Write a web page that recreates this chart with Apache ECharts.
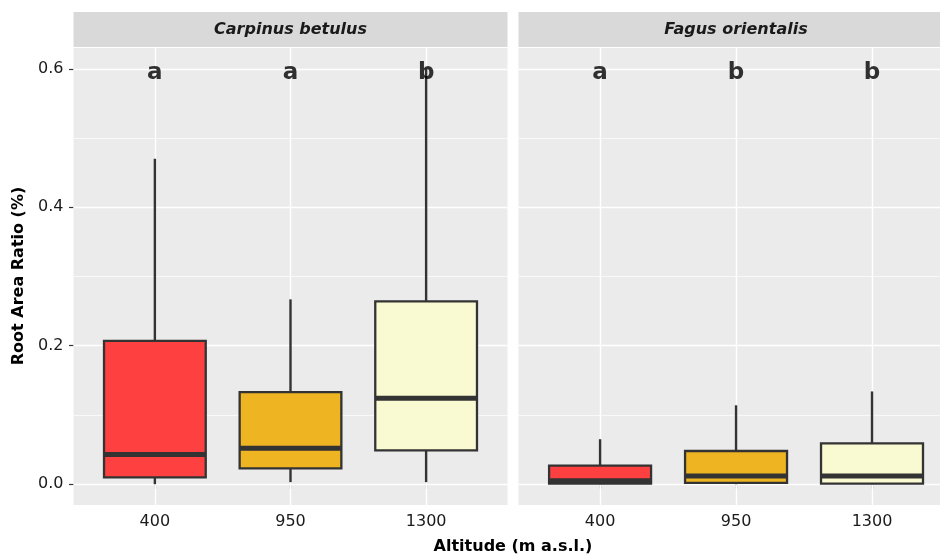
<!DOCTYPE html>
<html>
<head>
<meta charset="utf-8">
<script src="https://cdn.jsdelivr.net/npm/echarts@6/dist/echarts.min.js"></script>
<style>html,body{margin:0;padding:0;background:#fff}#c{width:940px;height:559px}</style>
</head>
<body>
<div id="c"></div>
<script>
// ---- data ----
const categories = ['400', '950', '1300'];
const panels = ['Carpinus betulus', 'Fagus orientalis'];
// [min, Q1, median, Q3, max] per altitude
const carpinusBox = [
  [0.000, 0.010, 0.043, 0.207, 0.470],
  [0.003, 0.023, 0.052, 0.133, 0.267],
  [0.003, 0.049, 0.124, 0.264, 0.600]
];
const fagusBox = [
  [0.000, 0.001, 0.005, 0.027, 0.065],
  [0.000, 0.002, 0.012, 0.048, 0.114],
  [0.000, 0.001, 0.012, 0.059, 0.134]
];
const carpinusLetters = ['a', 'a', 'b'];
const fagusLetters = ['a', 'b', 'b'];
const letterY = 0.6;
const yTicks = [0, 0.2, 0.4, 0.6];
const yMinor = [0.1, 0.3, 0.5];
const xPos = [1, 2, 3];
const fillColors = ['#FF4040', '#EEB422', '#FAFAD2'];

// ---- chart ----
const chart = echarts.init(document.getElementById('c'), null, {renderer: 'canvas'});
const font = '"DejaVu Sans", Verdana, sans-serif';

function renderBox(params, api) {
  const i = params.dataIndex;
  const xv = api.value(0);
  const pMin = api.coord([xv, api.value(1)]);
  const pQ1 = api.coord([xv, api.value(2)]);
  const pMed = api.coord([xv, api.value(3)]);
  const pQ3 = api.coord([xv, api.value(4)]);
  const pMax = api.coord([xv, api.value(5)]);
  const w = api.size([0.75, 0])[0];
  const x = pMed[0];
  const stroke = '#333333';
  return {
    type: 'group',
    children: [
      {type: 'line', shape: {x1: x, y1: pMax[1], x2: x, y2: pQ3[1]}, style: {stroke, lineWidth: 2.4}},
      {type: 'line', shape: {x1: x, y1: pQ1[1], x2: x, y2: pMin[1]}, style: {stroke, lineWidth: 2.4}},
      {type: 'rect', shape: {x: x - w / 2, y: pQ3[1], width: w, height: pQ1[1] - pQ3[1]},
        style: {fill: fillColors[i], stroke, lineWidth: 2.3}},
      {type: 'line', shape: {x1: x - w / 2, y1: pMed[1], x2: x + w / 2, y2: pMed[1]}, style: {stroke, lineWidth: 5}}
    ]
  };
}

function gridLines() {
  const d = [];
  yMinor.forEach(v => d.push({yAxis: v, lineStyle: {color: '#ffffff', width: 0.7, type: 'solid'}}));
  yTicks.forEach(v => d.push({yAxis: v, lineStyle: {color: '#ffffff', width: 1.4, type: 'solid'}}));
  xPos.forEach(v => d.push({xAxis: v, lineStyle: {color: '#ffffff', width: 1.4, type: 'solid'}}));
  return d;
}

const grids = [
  {left: 73.5, top: 48, width: 434, height: 457, show: true, backgroundColor: '#EBEBEB', borderWidth: 0},
  {left: 518.5, top: 48, width: 421.5, height: 457, show: true, backgroundColor: '#EBEBEB', borderWidth: 0}
];
const xMax = [3.6, 3.5];

const xAxes = [0, 1].map(g => ({
  type: 'value', gridIndex: g, min: 0.4, max: xMax[g],
  axisLine: {show: false},
  axisTick: {show: true, customValues: xPos, length: 4.5, lineStyle: {color: '#333', width: 1.2}},
  axisLabel: {customValues: xPos, formatter: v => categories[Math.round(v) - 1],
    color: '#1a1a1a', fontSize: 16, fontFamily: font, margin: 9},
  splitLine: {show: false}
}));

const yAxes = [0, 1].map(g => ({
  type: 'value', gridIndex: g, min: -0.03, max: 0.63,
  axisLine: {show: false},
  axisTick: {show: g === 0, length: 4.5, customValues: yTicks, lineStyle: {color: '#333', width: 1.2}},
  axisLabel: {show: g === 0, customValues: yTicks, formatter: v => v.toFixed(1),
    color: '#1a1a1a', fontSize: 16, fontFamily: font, margin: 10},
  splitLine: {show: false}
}));

const boxSets = [carpinusBox, fagusBox];
const letterSets = [carpinusLetters, fagusLetters];
const series = [];
[0, 1].forEach(g => {
  series.push({
    type: 'line', xAxisIndex: g, yAxisIndex: g, z: 1, silent: true,
    data: [], symbol: 'none',
    markLine: {silent: true, z: 1, symbol: 'none', label: {show: false}, animation: false, data: gridLines()}
  });
  series.push({
    type: 'custom', xAxisIndex: g, yAxisIndex: g, z: 3,
    renderItem: renderBox,
    encode: {x: 0, y: [1, 2, 3, 4, 5]},
    data: boxSets[g].map((b, i) => [xPos[i]].concat(b))
  });
  series.push({
    type: 'scatter', xAxisIndex: g, yAxisIndex: g, z: 4, symbolSize: 0, silent: true,
    data: letterSets[g].map((l, i) => [xPos[i], letterY]),
    label: {show: true, position: 'inside', offset: [0, 4],
      formatter: p => letterSets[g][p.dataIndex],
      color: '#000', fontSize: 23, fontWeight: 'bold', fontFamily: font}
  });
});

const graphic = [];
panels.forEach((name, g) => {
  const left = grids[g].left;
  const w = g === 0 ? 434 : 435;
  graphic.push({type: 'rect', x: left, y: 12, shape: {width: g === 0 ? 434 : 421.5, height: 35}, style: {fill: '#D9D9D9'}, silent: true});
  graphic.push({type: 'text', x: left + w / 2, y: 30, style: {text: name, fill: '#1A1A1A', font: 'italic bold 16px ' + font, textAlign: 'center', textVerticalAlign: 'middle'}});
});
graphic.push({type: 'text', x: 513, y: 547, style: {text: 'Altitude (m a.s.l.)', fill: '#000', font: 'bold 16px ' + font, textAlign: 'center', textVerticalAlign: 'middle'}});
graphic.push({type: 'text', x: 19, y: 276, rotation: Math.PI / 2, style: {text: 'Root Area Ratio (%)', fill: '#000', font: 'bold 16px ' + font, textAlign: 'center', textVerticalAlign: 'middle'}});

chart.setOption({
  animation: false,
  backgroundColor: '#ffffff',
  grid: grids,
  xAxis: xAxes,
  yAxis: yAxes,
  series: series,
  graphic: graphic
});
</script>
</body>
</html>
